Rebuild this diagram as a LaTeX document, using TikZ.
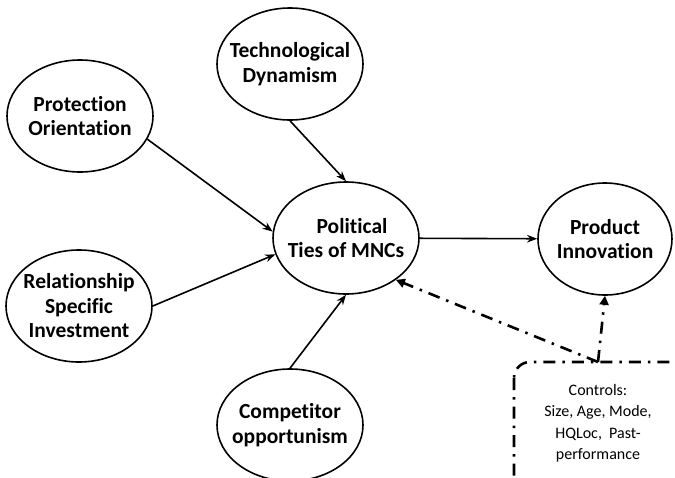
\documentclass[tikz,border=0pt]{standalone}
\usepackage{fontspec}
\setmainfont{Carlito}[Ligatures=NoCommon]
\usetikzlibrary{arrows,arrows.meta,shapes,positioning}
\tikzstyle{construct} = [ellipse, draw, line width=1.6pt, minimum width=146pt, minimum height=112pt,
                         inner xsep=-14pt, inner ysep=-10pt, align=center,
                         font=\fontsize{21.5}{24.5}\selectfont\bfseries]
\tikzstyle{arrow}     = [line width=1.6pt,->,>=Stealth]
\tikzstyle{ctrl}      = [line width=2.6pt,-{Triangle[length=9pt,width=9pt]},
                         dash pattern=on 12pt off 7pt on 2.5pt off 7pt]

\begin{document}
\begin{tikzpicture}[x=1pt,y=-1pt]
	\useasboundingbox (0,0) rectangle (675,477);
	\clip (0,0) rectangle (675,477);
	\node[construct] (PO) at (80,116) {Protection\\Orientation};
	\node[construct] (TD) at (290,64) {Technological\\Dynamism};
	\node[construct] (RSI) at (79,306) {Relationship\\Specific\\Investment};
	\node[construct] (CO) at (290,425) {Competitor\\opportunism};
	\node[construct] (PT) at (346,238) {\hspace*{12pt}Political\\Ties of MNCs};
	\node[construct, minimum width=134pt] (PI) at (605,239) {Product\\Innovation};
	\draw[line width=2.6pt, rounded corners=16pt, dash pattern=on 12pt off 7pt on 2.5pt off 7pt]
		(514,362) rectangle (700,500);
	\node[align=center, font=\fontsize{16}{21.5}\selectfont] (CT) at (598,423)
		{Controls:\\Size, Age, Mode,\\HQLoc,\ \ Past-\\performance};
	\coordinate (C) at (598,362);
	\draw[arrow] (PO.-19) -- (PT.175);
	\draw[arrow] (TD.south) -- (PT.north);
	\draw[arrow] (RSI.east) -- (PT.193);
	\draw[arrow] (CO.north) -- (PT.south);
	\draw[arrow] (PT) -- (PI);
	\draw[ctrl] (C) -- (PT.-40);
	\draw[ctrl] (C) -- (PI.south);
\end{tikzpicture}
\end{document}
